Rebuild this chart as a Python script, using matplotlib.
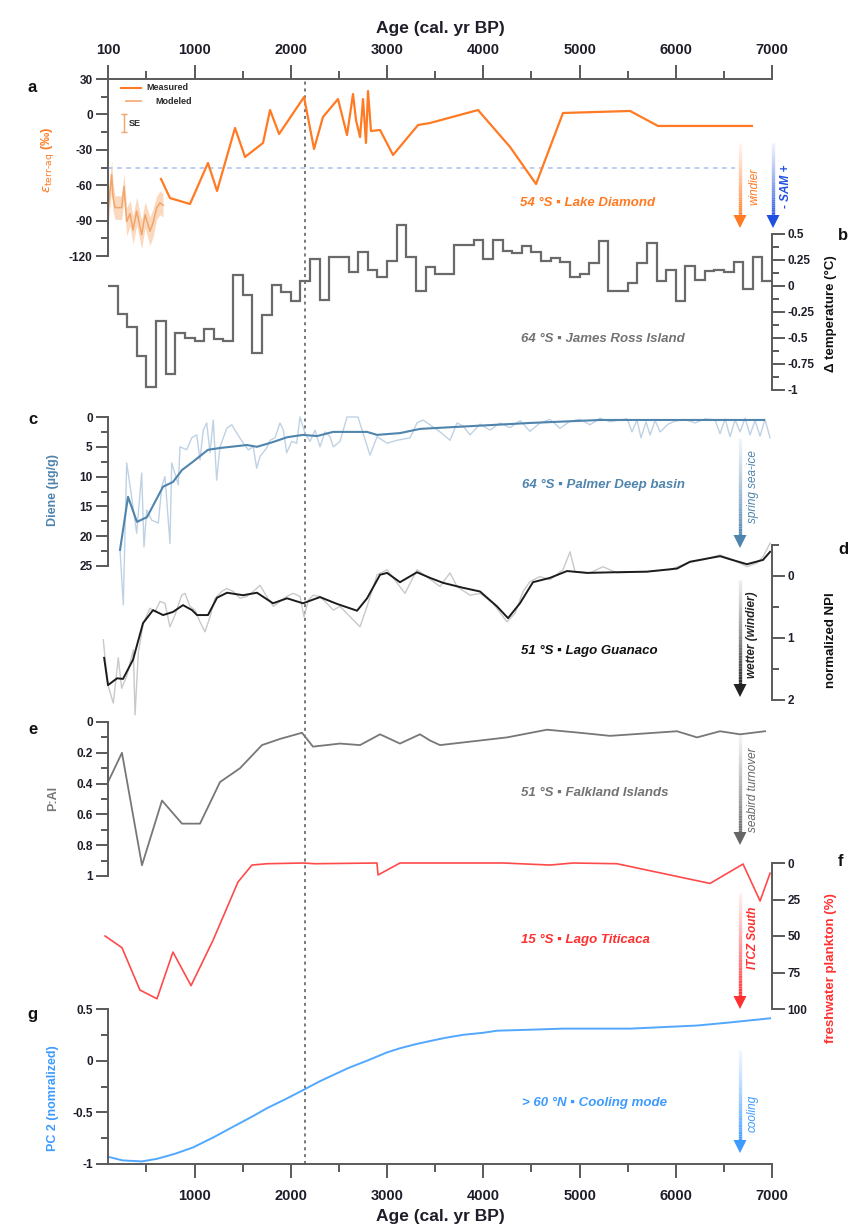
import numpy as np
import matplotlib
matplotlib.use("Agg")
import matplotlib.pyplot as plt
from matplotlib.collections import LineCollection
from matplotlib.patches import Polygon
from matplotlib.colors import to_rgba

plt.rcParams['font.family'] = ['Liberation Sans', 'DejaVu Sans']
plt.rcParams['axes.unicode_minus'] = False
plt.rcParams['mathtext.fontset'] = 'dejavusans'

# ---- data (ages in cal. yr BP) ----
# a: Lake Diamond epsilon terr-aq
ld_age = [651, 744, 952, 1139, 1233, 1420, 1524, 1711, 1784, 1878, 2137, 2241, 2334,
          2490, 2584, 2646, 2677, 2719, 2750, 2781, 2802, 2833, 2927, 3062, 3322, 3446,
          3945, 4278, 4548, 4828, 5525, 5816, 6792]
ld_eps = [-54.7, -70.9, -75.9, -41.2, -64.9, -11.5, -36.1, -24.2, 3.7, -16.6, 14.7, -29.3, -2.2,
          13.0, -17.5, 17.3, -4.7, -19.2, 13.0, -24.2, 19.8, -14.1, -13.2, -34.4, -9.0, -7.3,
          3.7, -27.6, -59.0, 1.2, 2.9, -9.8, -9.8]
mod_age = [100, 138, 152, 173, 242, 266, 294, 329, 360, 398, 450, 485, 536, 568, 606, 640, 672]
mod_eps = [-82, -51, -70, -79, -79, -61, -91, -84, -98, -82, -102, -85, -99, -92, -79, -75, -77]
mod_se = [14, 12, 12, 10, 10, 11, 12, 11, 12, 12, 12, 11, 12, 12, 10, 10, 10]
sam_level = -45

# b: James Ross Island, century bins 100-7000
jr_edges = list(range(100, 7001, 100))
jr_temp = [0.0, -0.27, -0.39, -0.67, -0.97, -0.34, -0.85, -0.45, -0.50, -0.53,
           -0.41, -0.51, -0.53, 0.11, -0.09, -0.64, -0.28, 0.01, -0.06, -0.14,
           0.05, 0.26, -0.13, 0.28, 0.28, 0.13, 0.33, 0.15, 0.09, 0.24,
           0.59, 0.28, -0.05, 0.18, 0.12, 0.12, 0.39, 0.39, 0.44, 0.26,
           0.44, 0.34, 0.32, 0.38, 0.33, 0.24, 0.27, 0.23, 0.09, 0.12,
           0.22, 0.43, -0.05, -0.05, 0.03, 0.22, 0.41, 0.05, 0.15, -0.14,
           0.19, 0.06, 0.14, 0.15, 0.13, 0.23, -0.03, 0.28, 0.05]

# c: Palmer Deep diene
dsm_age = [225, 308, 401, 505, 672, 775, 869, 983, 1139, 1264, 1544, 1648, 1815, 1960,
           2126, 2272, 2438, 2792, 2896, 3134, 3342, 3446, 4485, 5213, 6917]
dsm = [22.3, 13.4, 17.6, 16.8, 11.7, 10.9, 8.9, 7.5, 5.5, 5.2, 4.7, 5.0, 4.2, 3.4,
       3.0, 3.2, 2.5, 2.5, 3.0, 2.7, 2.0, 1.9, 1.0, 0.5, 0.5]
draw_age = [225, 259, 294, 346, 398, 450, 474, 502, 554, 623,
            658, 692, 744, 762, 831, 848, 918, 970, 1022, 1056,
            1090, 1126, 1160, 1194, 1229, 1264, 1334, 1386, 1438, 1506,
            1558, 1610, 1645, 1680, 1749, 1784, 1835, 1887, 1922, 1957,
            2009, 2061, 2095, 2147, 2199, 2251, 2303, 2355, 2407, 2441,
            2511, 2584, 2698, 2750, 2823, 2896, 3000, 3103, 3238, 3311,
            3373, 3446, 3550, 3654, 3727, 3789, 3862, 3966, 4070, 4174,
            4278, 4382, 4485, 4589, 4693, 4797, 4901, 5005, 5109, 5213,
            5317, 5421, 5494, 5545, 5597, 5639, 5691, 5733, 5785, 5837,
            5920, 5992, 6096, 6200, 6304, 6408, 6460, 6512, 6564, 6616,
            6668, 6720, 6772, 6824, 6876, 6927, 6980]
draw = [22.3, 31.5, 7.7, 13.4, 19.5, 9.4, 21.8, 15.6, 17.3, 17.8,
        11.7, 10.0, 21.2, 7.7, 11.4, 5.0, 5.5, 3.5, 3.0, 7.2,
        2.2, 1.0, 6.0, 0.5, 10.6, 5.0, 1.9, 1.3, 2.7, 4.4,
        5.5, 5.0, 8.6, 6.6, 5.2, 3.9, 3.5, 1.0, 2.2, 6.0,
        4.1, 4.4, 0.0, 2.7, 4.1, 2.2, 5.0, 2.5, 3.3, 5.0,
        4.1, 0.0, 0.0, 2.7, 6.4, 3.3, 4.4, 3.9, 3.5, 1.0,
        0.5, 1.3, 2.5, 3.9, 1.0, 1.5, 3.0, 1.2, 2.2, 1.0,
        1.8, 0.6, 2.4, 1.0, 0.4, 1.9, 0.7, 0.4, 1.3, 0.2,
        0.8, 0.5, 0.3, 2.5, 0.5, 3.5, 0.8, 3.0, 0.6, 2.5,
        1.2, 0.7, 0.4, 1.0, 0.3, 0.5, 2.8, 0.3, 3.3, 0.5,
        2.5, 0.2, 3.0, 0.6, 3.2, 0.4, 3.5]

# d: Lago Guanaco NPI
nsm_age = [60, 100, 194, 256, 360, 464, 568, 672, 775, 879,
           973, 1025, 1139, 1233, 1337, 1503, 1648, 1815, 1960, 2126,
           2303, 2480, 2688, 2792, 2927, 3000, 3134, 3311, 3446, 3581,
           3789, 3966, 4142, 4257, 4381, 4516, 4693, 4870, 5078, 5348,
           5701, 6013, 6148, 6460, 6564, 6740, 6907, 6980]
nsm = [1.32, 1.76, 1.65, 1.66, 1.35, 0.76, 0.55, 0.63, 0.58, 0.47,
       0.55, 0.63, 0.63, 0.35, 0.27, 0.31, 0.27, 0.44, 0.36, 0.44,
       0.34, 0.45, 0.56, 0.36, -0.02, -0.05, 0.10, -0.06, 0.03, 0.11,
       0.19, 0.25, 0.49, 0.68, 0.44, 0.10, 0.03, -0.08, -0.05, -0.06,
       -0.07, -0.12, -0.23, -0.32, -0.27, -0.19, -0.26, -0.39]
nraw_age = [51, 69, 103, 155, 207, 242, 294, 363, 381, 415,
            467, 536, 588, 640, 692, 744, 796, 866, 900, 952,
            1004, 1056, 1108, 1160, 1212, 1282, 1334, 1402, 1472, 1541,
            1610, 1680, 1749, 1818, 1887, 1957, 2026, 2095, 2137, 2182,
            2234, 2303, 2373, 2441, 2511, 2719, 2792, 2896, 3000, 3103,
            3186, 3311, 3446, 3550, 3654, 3727, 3862, 3966, 4101, 4246,
            4330, 4413, 4485, 4589, 4693, 4828, 4901, 4953, 5109, 5244,
            5389, 5701, 5940, 6117, 6283, 6460, 6595, 6740, 6844, 6907,
            6980]
nraw = [1.03, 1.32, 1.78, 2.05, 1.32, 1.81, 1.62, 1.19, 2.24, 1.24,
        0.76, 0.52, 0.58, 0.41, 0.44, 0.82, 0.63, 0.31, 0.28, 0.49,
        0.55, 0.74, 0.90, 0.66, 0.36, 0.25, 0.20, 0.25, 0.36, 0.33,
        0.25, 0.15, 0.33, 0.49, 0.41, 0.33, 0.28, 0.33, 0.66, 0.39,
        0.31, 0.33, 0.44, 0.55, 0.49, 0.82, 0.49, -0.02, -0.10, 0.11,
        0.28, -0.10, 0.05, 0.17, -0.05, 0.17, 0.31, 0.28, 0.44, 0.74,
        0.60, 0.25, 0.09, 0.01, 0.06, -0.10, -0.39, -0.07, -0.05, -0.15,
        -0.05, -0.07, -0.10, -0.21, -0.26, -0.34, -0.26, -0.15, -0.21, -0.31,
        -0.53]

# e: Falkland Islands P:Al
pal_age = [100, 245, 453, 661, 869, 1056, 1264, 1472, 1700, 1887,
           2116, 2230, 2511, 2719, 2927, 3134, 3342, 3446, 3550, 4246,
           4662, 5005, 5317, 6013, 6221, 6460, 6668, 6928]
pal = [0.39, 0.20, 0.93, 0.51, 0.66, 0.66, 0.39, 0.30, 0.15, 0.11,
       0.07, 0.16, 0.14, 0.15, 0.08, 0.14, 0.08, 0.12, 0.15, 0.10,
       0.05, 0.07, 0.09, 0.06, 0.10, 0.06, 0.08, 0.06]

# f: Lago Titicaca freshwater plankton
tt_age = [70, 245, 432, 609, 775, 963, 1191, 1451, 1596, 1752,
          2126, 2251, 2895, 2906, 3134, 3446, 4205, 4693, 4932, 5389,
          6356, 6699, 6876, 6980]
tt = [50, 58, 87, 93, 61, 84, 53, 13, 1.4, 0.5,
      0, 0.5, 0, 8.2, 0, 0, 0, 1.4, 0, 0.5,
      14, 0.7, 26, 7]

# g: PC2 cooling mode
pc_age = [100, 250, 450, 609, 800, 983, 1200, 1399, 1600, 1752, 1950, 2137, 2300,
          2438, 2600, 2792, 3000, 3134, 3300, 3446, 3600, 3789, 4000, 4142, 4500,
          4828, 5525, 6221, 6564, 6980]
pc = [-0.93, -0.965, -0.975, -0.95, -0.90, -0.84, -0.74, -0.64, -0.54, -0.46, -0.37, -0.28, -0.20,
      -0.14, -0.07, 0.0, 0.08, 0.12, 0.16, 0.19, 0.22, 0.25, 0.27, 0.29, 0.30,
      0.31, 0.31, 0.34, 0.37, 0.41]

event_age = 2150

# ---- layout helpers (pixel based) ----
W, H = 858, 1227
X0, X1 = 108, 772
XMIN, XMAX = 100, 7000
SPINE = '#5a5a5a'
TXT = '#1e1e2a'

fig = plt.figure(figsize=(W / 100, H / 100), dpi=100)


def panel(top, bot):
    ax = fig.add_axes([X0 / W, 1 - bot / H, (X1 - X0) / W, (bot - top) / H])
    ax.set_xlim(XMIN, XMAX)
    ax.patch.set_visible(False)
    for s in ax.spines.values():
        s.set_visible(False)
    ax.set_xticks([])
    return ax


def yaxis(ax, side, lo, hi, major, minor):
    ax.set_ylim(lo, hi)
    ax.spines[side].set_visible(True)
    ax.spines[side].set_color(SPINE)
    ax.spines[side].set_linewidth(1.4)
    ax.yaxis.set_ticks_position(side)
    ax.set_yticks(major)
    ax.set_yticklabels([f'{v:g}' for v in major])
    ax.set_yticks(minor, minor=True)
    ax.tick_params(axis='y', which='major', length=9, width=1.4, color=SPINE,
                   labelsize=8.5, pad=2, labelcolor=TXT)
    ax.tick_params(axis='y', which='minor', length=5, width=1.4, color=SPINE)
    for t in ax.get_yticklabels():
        t.set_fontweight('bold')


# frame: bottom and top age axes
fr = panel(79, 1164)
fr.set_ylim(0, 1)
fr.spines['bottom'].set_visible(True)
fr.spines['bottom'].set_color(SPINE)
fr.spines['bottom'].set_linewidth(1.4)
fr.set_xticks(range(1000, 7001, 1000))
fr.set_xticks(range(500, 7000, 1000), minor=True)
fr.tick_params(axis='x', which='major', length=10, width=1.4, color=SPINE, labelsize=10.5, pad=8,
               labelcolor=TXT)
fr.tick_params(axis='x', which='minor', length=6, width=1.4, color=SPINE)
for t in fr.get_xticklabels():
    t.set_fontweight('bold')
fr.set_yticks([])
fr.axvline(event_age, color='#555555', ls=(0, (2, 2.5)), lw=1.1)

top = fr.twiny()
top.set_xlim(XMIN, XMAX)
for s in top.spines.values():
    s.set_visible(False)
top.spines['top'].set_visible(True)
top.spines['top'].set_color(SPINE)
top.spines['top'].set_linewidth(1.4)
top.set_xticks([100] + list(range(1000, 7001, 1000)))
top.set_xticks(range(500, 7000, 1000), minor=True)
top.tick_params(axis='x', which='major', length=10, width=1.4, color=SPINE, labelsize=10.5, pad=6,
                labelcolor=TXT)
top.tick_params(axis='x', which='minor', length=6, width=1.4, color=SPINE)
for t in top.get_xticklabels():
    t.set_fontweight('bold')
top.patch.set_visible(False)

# a: Lake Diamond
ORANGE = '#ff7a22'
axa = panel(79, 256)
yaxis(axa, 'left', -120, 30, [30, 0, -30, -60, -90, -120], [15, -15, -45, -75, -105])
axa.hlines(sam_level, 100, 6620, color='#a9bff0', ls=(0, (3, 3)), lw=1.1)
lo = [m - s for m, s in zip(mod_eps, mod_se)]
hi = [m + s for m, s in zip(mod_eps, mod_se)]
axa.fill_between(mod_age, lo, hi, color='#f8c9a3', alpha=0.7, lw=0)
axa.plot(mod_age, mod_eps, color='#f2a56b', lw=1.1, clip_on=False)
axa.plot(ld_age, ld_eps, color=ORANGE, lw=1.6, clip_on=False)

# b: James Ross Island
axb = panel(234, 390)
yaxis(axb, 'right', -1, 0.5, [0.5, 0.25, 0, -0.25, -0.5, -0.75, -1],
      [0.375, 0.125, -0.125, -0.375, -0.625, -0.875])
axb.stairs(jr_temp, jr_edges, color='#6a6a6a', lw=1.6, baseline=None, clip_on=False)

# c: Palmer Deep
STEEL = '#4f84ad'
axc = panel(417, 566)
yaxis(axc, 'left', 25, 0, [0, 5, 10, 15, 20, 25], [2.5, 7.5, 12.5, 17.5, 22.5])
axc.plot(draw_age, draw, color='#bfd2e4', lw=1.0, clip_on=False)
axc.plot(dsm_age, dsm, color=STEEL, lw=1.5, clip_on=False)

# d: Lago Guanaco
axd = panel(545, 700)
yaxis(axd, 'right', 2, -0.5, [0, 1, 2], [-0.5, 0.5, 1.5])
axd.plot(nraw_age, nraw, color='#c9c9c9', lw=1.0, clip_on=False)
axd.plot(nsm_age, nsm, color='#1c1c1c', lw=1.4, clip_on=False)

# e: Falkland Islands
axe = panel(722, 876)
yaxis(axe, 'left', 1, 0, [0, 0.2, 0.4, 0.6, 0.8, 1], [0.1, 0.3, 0.5, 0.7, 0.9])
axe.plot(pal_age, pal, color='#777777', lw=1.3, clip_on=False)

# f: Lago Titicaca
RED = '#ff3030'
axf = panel(863, 1009)
yaxis(axf, 'right', 100, 0, [0, 25, 50, 75, 100], [])
axf.plot(tt_age, tt, color='#ff4a4a', lw=1.2, clip_on=False)

# g: PC2
BLUE = '#3d9bff'
axg = panel(1009, 1164)
yaxis(axg, 'left', -1, 0.5, [0.5, 0, -0.5, -1], [0.25, -0.25, -0.75])
axg.plot(pc_age, pc, color='#52a8ff', lw=1.4, clip_on=False)

# ---- overlay in pixel coordinates: labels, arrows, annotations ----
ov = fig.add_axes([0, 0, 1, 1], zorder=10)
ov.set_xlim(0, W)
ov.set_ylim(H, 0)
ov.axis('off')

ov.text(440, 28, 'Age (cal. yr BP)', ha='center', va='center', fontsize=12.5, fontweight='bold', color=TXT)
ov.text(440, 1216, 'Age (cal. yr BP)', ha='center', va='center', fontsize=12.5, fontweight='bold', color=TXT)

for lab, x, y in [('a', 32, 87), ('c', 33, 420), ('e', 33, 730), ('g', 32, 1015),
                  ('b', 843, 236), ('d', 843, 550), ('f', 841, 862)]:
    ov.text(x, y, lab, ha='center', va='center', fontsize=12, fontweight='bold', color='#111111')

# axis titles
ov.text(47, 160, r'$\varepsilon_{\rm terr\text{-}aq}$ (‰)', rotation=90, ha='center', va='center',
        fontsize=9.5, fontweight='bold', color=ORANGE)
ov.text(53, 490, 'Diene (µg/g)', rotation=90, ha='center', va='center', fontsize=9,
        fontweight='bold', color=STEEL)
ov.text(53, 798, 'P:Al', rotation=90, ha='center', va='center', fontsize=9,
        fontweight='bold', color='#777777')
ov.text(53, 1098, 'PC 2 (nomralized)', rotation=90, ha='center', va='center', fontsize=9,
        fontweight='bold', color=BLUE)
ov.text(831, 314, 'Δ temperature (°C)', rotation=90, ha='center', va='center', fontsize=9.5,
        fontweight='bold', color='#111111')
ov.text(831, 640, 'normalized NPI', rotation=90, ha='center', va='center', fontsize=9.5,
        fontweight='bold', color='#111111')
ov.text(831, 968, 'freshwater plankton (%)', rotation=90, ha='center', va='center', fontsize=9.5,
        fontweight='bold', color=RED)

# site names
sites = [('54 °S ▪ Lake Diamond', 588, 203, ORANGE),
         ('64 °S ▪ James Ross Island', 603, 339, '#737373'),
         ('64 °S ▪ Palmer Deep basin', 604, 485, STEEL),
         ('51 °S ▪ Lago Guanaco', 589, 651, '#111111'),
         ('51 °S ▪ Falkland Islands', 595, 793, '#737373'),
         ('15 °S ▪ Lago Titicaca', 585, 940, RED),
         ('> 60 °N ▪ Cooling mode', 595, 1103, BLUE)]
for s, x, y, c in sites:
    ov.text(x, y, s, ha='center', va='center', fontsize=9.5, fontweight='bold',
            fontstyle='italic', color=c)


def grad_arrow(x, y0, y1, color, lw=2.4):
    n = 40
    ys = np.linspace(y0, y1 - 10, n + 1)
    r, g, b, _ = to_rgba(color)
    segs = [[(x, ys[i]), (x, ys[i + 1])] for i in range(n)]
    cols = [(r, g, b, 0.08 + 0.92 * (i / (n - 1)) ** 1.2) for i in range(n)]
    ov.add_collection(LineCollection(segs, colors=cols, linewidths=lw, capstyle='butt'))
    ov.add_patch(Polygon([(x - 6.5, y1 - 13), (x + 6.5, y1 - 13), (x, y1)], closed=True,
                         color=color, lw=0))


arrows = [(740, 143, 228, ORANGE, 'windier', 754, 186, 'normal'),
          (773, 143, 228, '#2050e0', '- SAM +', 786, 186, 'bold'),
          (740, 438, 548, STEEL, 'spring sea-ice', 753, 487, 'normal'),
          (740, 580, 697, '#222222', 'wetter (windier)', 752, 635, 'bold'),
          (740, 735, 845, '#666666', 'seabird turnover', 753, 790, 'normal'),
          (740, 893, 1009, RED, 'ITCZ South', 753, 938, 'bold'),
          (740, 1050, 1153, BLUE, 'cooling', 753, 1113, 'normal')]
for x, y0, y1, c, s, tx, ty, fw in arrows:
    grad_arrow(x, y0, y1, c)
    ov.text(tx, ty, s, rotation=90, ha='center', va='center', fontsize=8.5,
            fontstyle='italic', fontweight=fw, color=c)

# legend of panel a
ov.plot([121, 141], [88, 88], color=ORANGE, lw=1.5)
ov.text(146, 88, 'Measured', ha='left', va='center', fontsize=6.5, fontweight='bold', color='#2a2a2a')
ov.plot([126, 141], [101, 101], color='#f4b07c', lw=1.3)
ov.text(155, 101, 'Modeled', ha='left', va='center', fontsize=6.5, fontweight='bold', color='#2a2a2a')
ov.errorbar([124], [123], yerr=[[9], [9]], color='#f2a56b', lw=1.0, capsize=2)
ov.text(129, 123, 'SE', ha='left', va='center', fontsize=6.5, fontweight='bold', color='#2a2a2a')

fig.savefig('out.png', dpi=100)
